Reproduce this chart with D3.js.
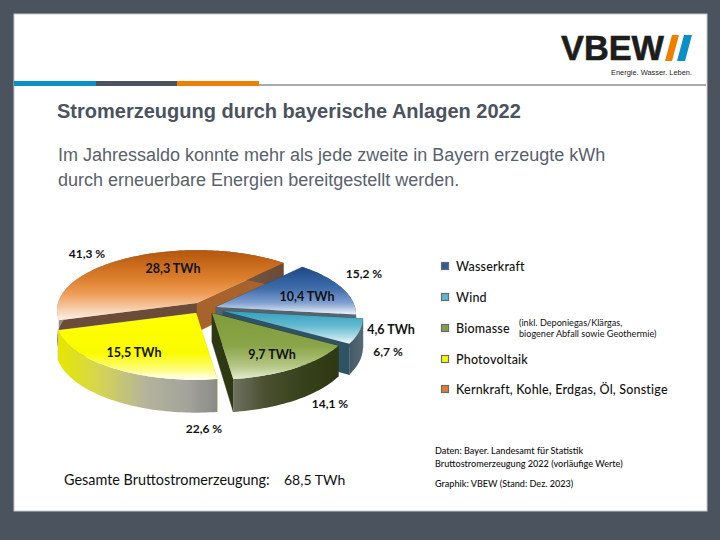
<!DOCTYPE html>
<html><head><meta charset="utf-8">
<script src="https://d3js.org/d3.v7.min.js"></script>
<style>
html,body{margin:0;padding:0;background:#4a535e}
svg{display:block}
</style></head><body>
<svg id="c" width="720" height="540"></svg>
<script>
const categories = ["Wasserkraft","Wind","Biomasse","Photovoltaik","Kernkraft, Kohle, Erdgas, Öl, Sonstige"];
const shares = [15.2, 6.7, 14.1, 22.6, 41.3];
const twh = [10.4, 4.6, 9.7, 15.5, 28.3];
const totalTwh = 68.5;

// layout
const explodeCentres = [[216,307],[223,311],[212,313],[196,313],[197,303]];
const pctPos = [[364,273],[388,351],[330,403],[204,428],[87,253]];
const twhPos = [[307,296],[391,329],[272,354],[134,352],[173,268]];
const legendY = [266,297,328,359,389];
const R = 139, Ry = 59, persp = 0.117, depth = 29, startDeg = 42.5;
const topStops = [
  [[0,"#1d4a86"],[.45,"#3f6cab"],[.75,"#7f9fd0"],[1,"#f2f5fa"]],
  [[0,"#35a0bd"],[.45,"#63b9d0"],[.8,"#b5dde8"],[1,"#f5fbfc"]],
  [[0,"#7f9b3a"],[.5,"#8aa548"],[.8,"#b4c684"],[1,"#e4ebcf"]],
  [[0,"#ffff00"],[.6,"#fbfb00"],[.85,"#fdfd80"],[1,"#fffffa"]],
  [[0,"#b4560c"],[.4,"#dc7f2c"],[.62,"#ee9c56"],[.85,"#f7d0b0"],[1,"#fdf0e6"]]
];
const wallStops = [
  [[0,"#44525f"],[1,"#5d6b78"]],
  [[0,"#435a66"],[1,"#566a74"]],
  [[0,"#6f7260"],[.3,"#4a5030"],[.7,"#35401a"],[1,"#2e3812"]],
  [[0,"#e6e600"],[.25,"#d6d650"],[.55,"#b4b49c"],[.8,"#a4a49a"],[1,"#8a8a8a"]],
  [[0,"#9a8e84"],[1,"#6b4a36"]]
];
const faceStart = ["#3e4c59","#34505e","#2e3812","#d8d800","#6b4c38"];
const faceEnd = ["#55636f","#2f5264","#2e3812","#8a8a8a","#a8632c"];
const legendCol = ["#2f5b9c","#62b5cf","#83a045","#fbfb00","#e07c30"];

const svg = d3.select("#c");
const defs = svg.append("defs");
function grad(id, stops, horizontal){
  const g = defs.append("linearGradient").attr("id",id)
    .attr("x1",0).attr("y1",0).attr("x2",horizontal?1:0).attr("y2",horizontal?0:1);
  stops.forEach(s=>g.append("stop").attr("offset",s[0]).attr("stop-color",s[1]));
}
topStops.forEach((s,i)=>grad("top"+i,s,false));
wallStops.forEach((s,i)=>grad("wall"+i,s,true));

// page frame
svg.append("rect").attr("width",720).attr("height",540).attr("fill","#4a535e");
svg.append("rect").attr("x",14).attr("y",14).attr("width",693).attr("height",497).attr("fill","#fff").attr("stroke","#c4c8cc").attr("stroke-width",1);
svg.append("rect").attr("x",259).attr("y",84).attr("width",447).attr("height",2).attr("fill","#a8acb0");
[["#0a8fc6",14,82],["#4a535e",96,81],["#ee7f00",177,82]].forEach(b=>
  svg.append("rect").attr("x",b[1]).attr("y",81).attr("width",b[2]).attr("height",5).attr("fill",b[0]));

// logo
svg.append("text").attr("x",561).attr("y",60).attr("font-family","Liberation Sans").attr("font-weight",700)
  .attr("font-size",35).attr("fill","#1d1d1b").attr("stroke","#1d1d1b").attr("stroke-width",.6)
  .attr("textLength",103).attr("lengthAdjust","spacingAndGlyphs").text("VBEW");
[["#ee7f00",[[665,61],[672,35],[679,35],[672,61]]],["#0a8fc6",[[677,61],[684,35],[692,35],[685,61]]]].forEach(p=>
  svg.append("polygon").attr("points",p[1].join(" ")).attr("fill",p[0]));
svg.append("text").attr("x",611).attr("y",75).attr("font-family","Liberation Sans").attr("font-size",8).attr("fill","#1d1d1b")
  .attr("textLength",81).attr("lengthAdjust","spacingAndGlyphs").text("Energie. Wasser. Leben.");

// heading
svg.append("text").attr("x",57).attr("y",118).attr("font-family","Liberation Sans").attr("font-weight",700)
  .attr("font-size",20).attr("fill","#4a535e").text("Stromerzeugung durch bayerische Anlagen 2022");
["Im Jahressaldo konnte mehr als jede zweite in Bayern erzeugte kWh","durch erneuerbare Energien bereitgestellt werden."].forEach((t,i)=>
  svg.append("text").attr("x",58).attr("y",161+i*24.5).attr("font-family","Liberation Sans")
   .attr("font-size",18).attr("fill","#59616b").text(t));

// 3D pie
const pieGen = d3.pie().sort(null).value(d=>d)
  .startAngle(startDeg*Math.PI/180).endAngle((startDeg+360)*Math.PI/180);
const arcs = pieGen(shares);
const line = d3.line();
function project(c, a, r, z){
  const x = r*Math.sin(a), y = -r*Math.cos(a), s = 1/(1-persp*y);
  return [c[0]+R*x*s, c[1]+(Ry*y+z)*s];
}
function arcPts(c, a0, a1, z){
  const n = Math.max(2, Math.ceil((a1-a0)*40)), scale = d3.scaleLinear().domain([0,n]).range([a0,a1]);
  return d3.range(n+1).map(i=>project(c, scale(i), 1, z));
}
const pieG = svg.append("g");
[4,0,1,2,3].forEach(i=>{
  const d = arcs[i], c = explodeCentres[i], a0 = d.startAngle, a1 = d.endAngle;
  const g = pieG.append("g");
  const face = (a, col)=>{
    g.append("path").attr("fill",col).attr("stroke",col).attr("stroke-width",.4)
     .attr("d", line([project(c,a,0,0),project(c,a,1,0),project(c,a,1,depth),project(c,a,0,depth)])+"Z");
  };
  face(a0, faceStart[i]);
  face(a1, faceEnd[i]);
  const upper = arcPts(c,a0,a1,0), lower = arcPts(c,a0,a1,depth).reverse();
  g.append("path").attr("fill",`url(#wall${i})`).attr("d", line(upper.concat(lower))+"Z");
  g.append("path").attr("fill",`url(#top${i})`).attr("d", line([project(c,a0,0,0)].concat(upper))+"Z");
});

// data labels
const comma = v=>d3.format(".1f")(v).replace(".",",");
const lab = (x,y,t,size,weight)=>svg.append("text").attr("x",x).attr("y",y).attr("text-anchor","middle")
   .attr("dominant-baseline","central").attr("font-family","Lato").attr("font-size",size).attr("font-weight",weight||700)
   .attr("fill","#111").text(t);
shares.forEach((v,i)=>lab(pctPos[i][0],pctPos[i][1],comma(v)+" %",12));
twh.forEach((v,i)=>lab(twhPos[i][0],twhPos[i][1],comma(v)+" TWh",12.5));

// legend
const legG = svg.append("g");
categories.forEach((t,i)=>{
  legG.append("rect").attr("x",441.5).attr("y",legendY[i]-3.5).attr("width",7).attr("height",7)
    .attr("fill",legendCol[i]).attr("stroke","#666c70").attr("stroke-width",1.2);
  legG.append("text").attr("x",456).attr("y",legendY[i]).attr("dominant-baseline","central")
    .attr("font-family","Lato").attr("font-size",12.5).attr("font-weight",500).attr("letter-spacing",.2).attr("fill","#111").text(t);
});
["(inkl. Deponiegas/Klärgas,","biogener Abfall sowie Geothermie)"].forEach((t,i)=>
  legG.append("text").attr("x",519).attr("y",322+i*11).attr("dominant-baseline","central")
    .attr("font-family","Lato").attr("font-size",9.1).attr("fill","#111").text(t));

// notes
const note=(x,y,t)=>svg.append("text").attr("x",x).attr("y",y).attr("dominant-baseline","central")
  .attr("font-family","Lato").attr("font-size",9.1).attr("font-weight",500).attr("fill","#111").text(t);
note(435,450,"Daten: Bayer. Landesamt für Statistik");
note(435,463,"Bruttostromerzeugung 2022 (vorläufige Werte)");
note(435,483,"Graphik: VBEW (Stand: Dez. 2023)");
svg.append("text").attr("x",64).attr("y",479).attr("dominant-baseline","central").attr("font-family","Lato")
  .attr("font-size",14.4).attr("fill","#111").text("Gesamte Bruttostromerzeugung:");
svg.append("text").attr("x",284).attr("y",479).attr("dominant-baseline","central").attr("font-family","Lato")
  .attr("font-size",14).attr("fill","#111").text(comma(totalTwh)+" TWh");
</script>
</body></html>
